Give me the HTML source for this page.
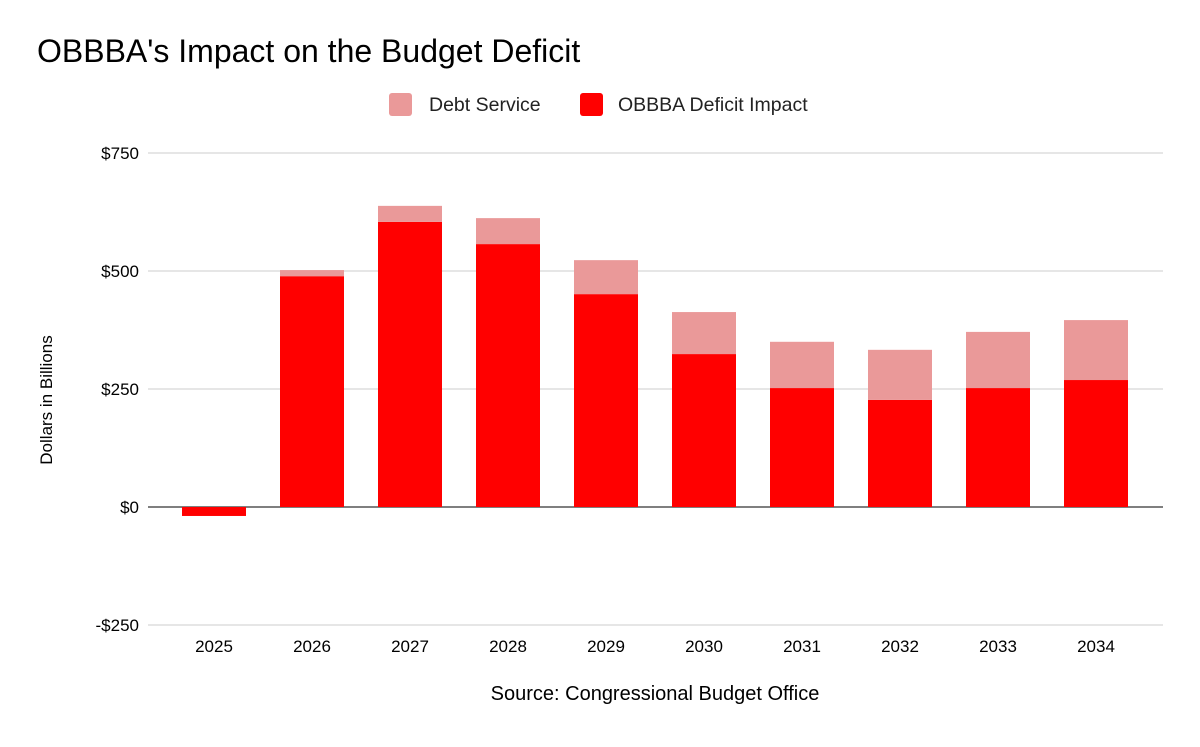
<!DOCTYPE html>
<html><head><meta charset="utf-8"><style>
body{margin:0;background:#fff;font-family:"Liberation Sans",Arial,sans-serif;}
</style></head><body>
<svg id="chart" width="1200" height="742" xmlns="http://www.w3.org/2000/svg">
<text x="37" y="62" font-size="32" fill="#000">OBBBA's Impact on the Budget Deficit</text>
<g>
<rect x="389" y="93" width="23" height="23" rx="3" fill="#ea9999"/>
<text x="429" y="111" font-size="19.5" fill="#222">Debt Service</text>
<rect x="580" y="93" width="23" height="23" rx="3" fill="#ff0000"/>
<text x="618" y="111" font-size="19.5" fill="#222">OBBBA Deficit Impact</text>
</g>
<g id="grid"></g>
<g id="bars"></g>
<g id="xlabels"></g>
<text transform="translate(52,400) rotate(-90)" text-anchor="middle" font-size="17" fill="#000">Dollars in Billions</text>
<text x="655" y="700" text-anchor="middle" font-size="20" fill="#000">Source: Congressional Budget Office</text>
</svg>
<script>
const categories=["2025","2026","2027","2028","2029","2030","2031","2032","2033","2034"];
const deficitImpact=[-19,489,604,557,451,324,252,227,252,269];
const debtService=[0,13,34,55,72,89,98,106,119,127];
const yTicks=[-250,0,250,500,750];
const yTickLabels=["-$250","$0","$250","$500","$750"];
const NS="http://www.w3.org/2000/svg";
const y=v=>507-v*0.472;
const x0=165,step=98,bw=64;
const xc=i=>x0+step*i+step/2;
function mk(t,a,p){const e=document.createElementNS(NS,t);for(const k in a)e.setAttribute(k,a[k]);p.appendChild(e);return e;}
const grid=document.getElementById('grid');
yTicks.forEach((v,i)=>{
  const l=mk('line',{x1:148,x2:1163,y1:y(v),y2:y(v),stroke:v===0?'#333':'#ccc','stroke-width':v===0?1.3:1},grid);
  
  
  const t=mk('text',{x:139,y:y(v)+6,'text-anchor':'end','font-size':17,fill:'#000'},grid);
  t.textContent=yTickLabels[i];
  
  
});
const bars=document.getElementById('bars');
const xl=document.getElementById('xlabels');
categories.forEach((c,i)=>{
  const d=deficitImpact[i],s=debtService[i];
  const top=Math.max(d,0),bot=Math.min(d,0);
  const r=mk('rect',{x:xc(i)-bw/2,y:y(top),width:bw,height:y(bot)-y(top),fill:'#ff0000'},bars);
  
  
  if(s>0){
    const base=Math.max(d,0);
    const r2=mk('rect',{x:xc(i)-bw/2,y:y(base+s),width:bw,height:y(base)-y(base+s),fill:'#ea9999'},bars);
    
    
  }
  const t=mk('text',{x:xc(i),y:652,'text-anchor':'middle','font-size':17,fill:'#000'},xl);
  t.textContent=c;
  
  
});
</script>
</body></html>
